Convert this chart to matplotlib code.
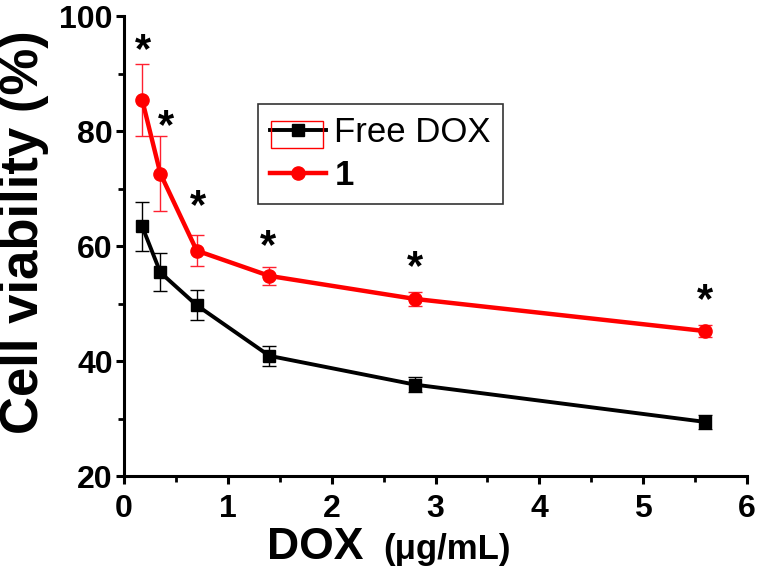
import matplotlib
matplotlib.use('Agg')
import matplotlib.pyplot as plt
from matplotlib.lines import Line2D
from matplotlib.patches import Rectangle
from matplotlib.ticker import MultipleLocator

plt.rcParams['font.family'] = ['Liberation Sans', 'DejaVu Sans']

# DOX concentration (ug/mL)
dox = [0.175, 0.35, 0.7, 1.4, 2.8, 5.6]

# cell viability (%) with error bars
free_dox = [63.4, 55.4, 49.7, 40.9, 35.9, 29.4]
free_dox_err = [4.3, 3.3, 2.6, 1.7, 1.3, 1.2]
cmpd1 = [85.4, 72.6, 59.2, 54.8, 50.8, 45.2]
cmpd1_err = [6.2, 6.5, 2.7, 1.5, 1.2, 1.1]

# significance markers
star_x = [0.185, 0.4, 0.71, 1.39, 2.8, 5.6]
star_y = [95.1, 81.9, 68.0, 61.0, 57.4, 51.6]

fig = plt.figure(figsize=(7.59, 5.74), dpi=100)
ax = fig.add_axes([0.1634, 0.1707, 0.8208, 0.8014])

ax.errorbar(dox, free_dox, yerr=free_dox_err, color='black', lw=2.8,
            marker='s', ms=8, elinewidth=1.0, capsize=5, capthick=1.0,
            zorder=3)
ax.errorbar(dox, cmpd1, yerr=cmpd1_err, color='#ff0000', ecolor='#ff2030',
            lw=3.2, marker='o', ms=9.5, elinewidth=1.0, capsize=5,
            capthick=1.0, zorder=4)

for sx, sy in zip(star_x, star_y):
    ax.annotate('*', (sx, sy), xytext=(0, -5), textcoords='offset points',
                fontsize=30, fontweight='bold', ha='center', va='center')

ax.set_xlim(0, 6)
ax.set_ylim(20, 100)
ax.xaxis.set_major_locator(MultipleLocator(1))
ax.xaxis.set_minor_locator(MultipleLocator(0.5))
ax.yaxis.set_major_locator(MultipleLocator(20))
ax.yaxis.set_minor_locator(MultipleLocator(10))

for side in ['top', 'right']:
    ax.spines[side].set_visible(False)
for side in ['left', 'bottom']:
    ax.spines[side].set_linewidth(2.2)

ax.tick_params(which='major', direction='out', length=6, width=2.2,
               labelsize=23)
ax.tick_params(which='minor', direction='out', length=4, width=2.0)
ax.tick_params(axis='x', which='major', pad=7)
ax.tick_params(axis='y', which='major', pad=2)
for lab in ax.get_xticklabels() + ax.get_yticklabels():
    lab.set_fontweight('bold')

# legend shows line and marker only
h1 = Line2D([], [], color='black', lw=2.8, marker='s', ms=8)
h2 = Line2D([], [], color='#ff0000', lw=3.2, marker='o', ms=9.5)
leg = ax.legend(handles=[h1, h2], labels=['Free DOX', '1'],
                loc='upper left', bbox_to_anchor=(0.215, 0.808),
                fontsize=25, frameon=True, fancybox=False,
                edgecolor='black', handlelength=1.6, handletextpad=0.25,
                borderpad=0.35, labelspacing=0.28, borderaxespad=0)
leg.get_frame().set_linewidth(1.2)
leg.get_texts()[1].set_fontweight('bold')

# selection box around the first legend handle, as in the original
fig.patches.append(Rectangle((0.357, 0.742), 0.0685, 0.047, fill=False,
                             edgecolor='#ff0000', lw=1.0,
                             transform=fig.transFigure, figure=fig))

fig.text(0.032, 0.595, 'Cell viability (%)', rotation=90, fontsize=38,
         fontweight='bold', ha='center', va='center')
fig.text(0.479, 0.047, 'DOX', fontsize=32, fontweight='bold', ha='right',
         va='center')
fig.text(0.505, 0.042, '(\u03bcg/mL)', fontsize=25, fontweight='bold',
         ha='left', va='center')

fig.savefig('out.png', dpi=100)
